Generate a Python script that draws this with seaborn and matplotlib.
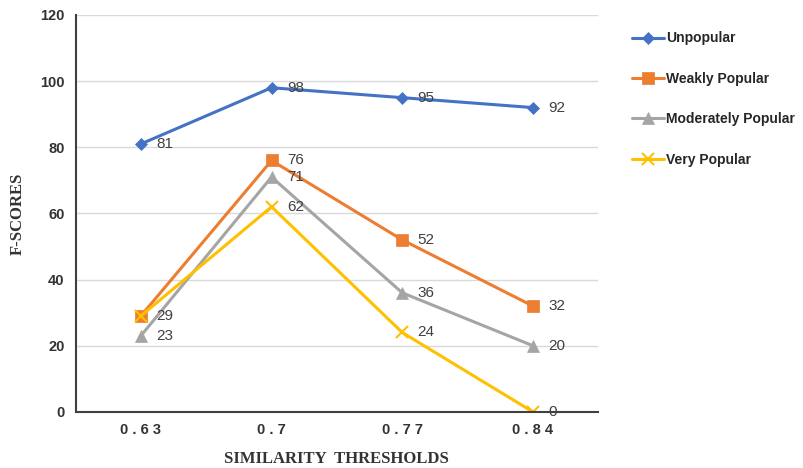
import pandas as pd
import seaborn as sns
import matplotlib.pyplot as plt

thresholds = ["0.63", "0.7", "0.77", "0.84"]
unpopular = [81, 98, 95, 92]
weakly_popular = [29, 76, 52, 32]
moderately_popular = [23, 71, 36, 20]
very_popular = [29, 62, 24, 0]

series = {
    "Unpopular": unpopular,
    "Weakly Popular": weakly_popular,
    "Moderately Popular": moderately_popular,
    "Very Popular": very_popular,
}
colors = ["#4472C4", "#ED7D31", "#A5A5A5", "#FFC000"]
markers = ["D", "s", "^", "x"]
sizes = {"D": 6, "s": 8, "^": 8, "x": 8}

rows = []
for name, vals in series.items():
    for i, v in enumerate(vals):
        rows.append({"pos": i, "threshold": thresholds[i], "score": v, "group": name})
df = pd.DataFrame(rows)

sns.set_style("white")
plt.rcParams["font.family"] = ["Liberation Sans", "DejaVu Sans"]

fig = plt.figure(figsize=(8.04, 4.68), dpi=100)
ax = fig.add_axes([0.094, 0.12, 0.65, 0.848])

labelled = set()
for (name, vals), c, m in zip(series.items(), colors, markers):
    sub = df[df["group"] == name]
    sns.lineplot(data=sub, x="pos", y="score", color=c, linewidth=2.2, ax=ax, label=name,
                 marker=m, markersize=sizes[m], markeredgecolor=c,
                 markeredgewidth=1.5 if m == "x" else 0.5)
    for i, v in enumerate(vals):
        if (i, v) in labelled:
            continue
        labelled.add((i, v))
        ax.annotate(str(v), (i, v), xytext=(11, 0), textcoords="offset points",
                    va="center", ha="left", fontsize=11, color="#404040")

ax.set_xlim(-0.5, 3.5)
ax.set_ylim(0, 120)
ax.set_yticks(range(0, 121, 20))
ax.set_xticks(range(4))
ax.set_xticklabels([" ".join(t) for t in thresholds], fontsize=10.5, fontweight="bold", color="#333333")
for lab in ax.get_yticklabels():
    lab.set_fontsize(10.5)
    lab.set_fontweight("bold")
    lab.set_color("#333333")
ax.tick_params(axis="both", length=0, pad=8)
ax.yaxis.grid(True, color="#d9d9d9", linewidth=1)
ax.set_axisbelow(True)
for s in ["top", "right"]:
    ax.spines[s].set_visible(False)
ax.spines["left"].set_color("#404040")
ax.spines["bottom"].set_color("#404040")
ax.spines["left"].set_linewidth(1.5)
ax.spines["bottom"].set_linewidth(1.5)

ax.set_xlabel("SIMILARITY  THRESHOLDS", family="Liberation Serif", fontweight="bold",
              fontsize=12, color="#333333", labelpad=10)
ax.set_ylabel("F-SCORES", family="Liberation Serif", fontweight="bold",
              fontsize=12, color="#333333", labelpad=10)

ax.legend(loc="upper left", bbox_to_anchor=(1.04, 0.99), frameon=False,
          labelspacing=1.9, handlelength=2.3, handletextpad=0.2,
          prop={"weight": "bold", "size": 10})

fig.savefig("out.png", dpi=100)
